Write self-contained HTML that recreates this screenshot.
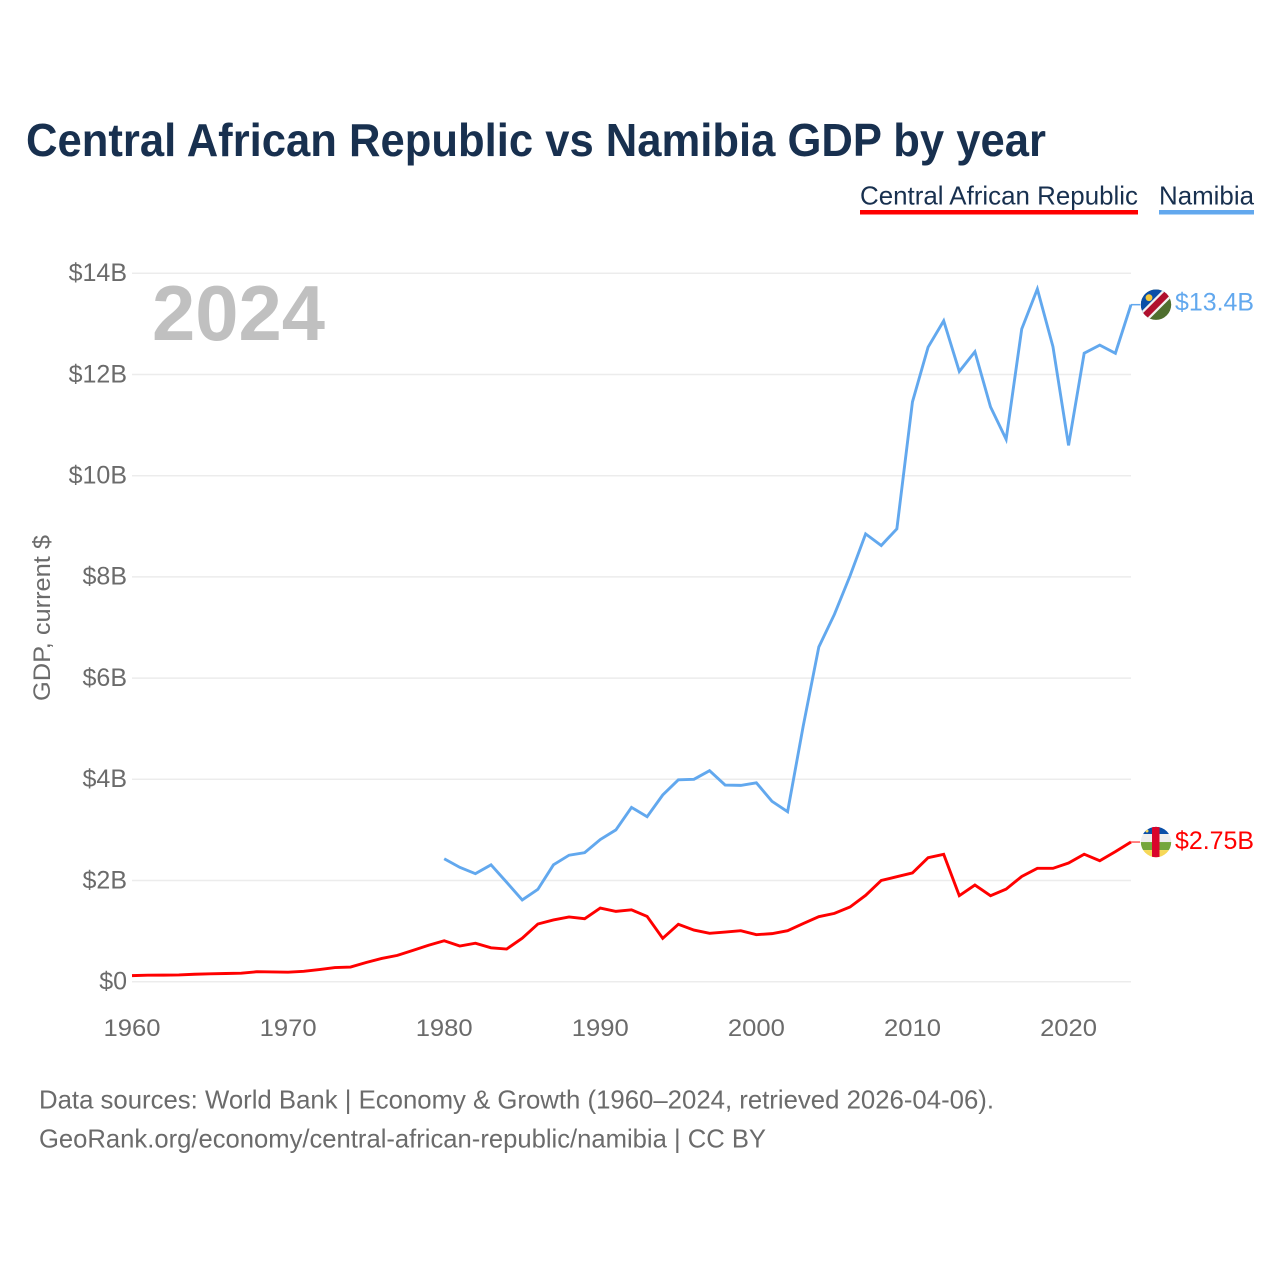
<!DOCTYPE html>
<html lang="en">
<head>
<meta charset="utf-8">
<title>Central African Republic vs Namibia GDP by year</title>
<style>
html,body{margin:0;padding:0;background:#fff}
svg{display:block}
text{font-family:"Liberation Sans",sans-serif}
</style>
</head>
<body>
<svg id="chart" xmlns="http://www.w3.org/2000/svg" width="1280" height="1280" viewBox="0 0 1280 1280">
  <defs>
    <clipPath id="flag-clip"><circle cx="0" cy="0" r="15.2"></circle></clipPath>
  </defs>
  <rect x="0" y="0" width="1280" height="1280" fill="#fff"></rect>

  <text x="26" y="156" font-size="46" font-weight="700" fill="#18304f" textLength="1020" lengthAdjust="spacingAndGlyphs">Central African Republic vs Namibia GDP by year</text>

  <g>
    <text x="860" y="204.5" font-size="26" fill="#18304f" textLength="278" lengthAdjust="spacingAndGlyphs">Central African Republic</text>
    <rect x="860" y="210" width="278" height="4.5" fill="#ff0000"></rect>
  </g>
  <g>
    <text x="1159" y="204.5" font-size="26" fill="#18304f" textLength="95" lengthAdjust="spacingAndGlyphs">Namibia</text>
    <rect x="1159" y="210" width="95" height="4.5" fill="#62a8ee"></rect>
  </g>

  <text transform="translate(50,618) rotate(-90)" text-anchor="middle" font-size="24" fill="#6b6b6b" textLength="166" lengthAdjust="spacingAndGlyphs">GDP, current $</text>

  <g id="grid"></g>
  <g id="y-ticks"></g>
  <g id="x-ticks"></g>

  <text x="152" y="340" font-size="78" font-weight="700" fill="#c0c0c0" textLength="173" lengthAdjust="spacingAndGlyphs">2024</text>

  <g id="series"></g>

  <g id="flag-namibia">
    <g clip-path="url(#flag-clip)">
      <rect x="-16" y="-16" width="32" height="32" fill="#4f6f2f"></rect>
      <polygon points="-16,-16 16,-16 -16,16" fill="#0a4fa8"></polygon>
      <line x1="-17" y1="17" x2="17" y2="-17" stroke="#f2f2f2" stroke-width="11"></line>
      <line x1="-17" y1="17" x2="17" y2="-17" stroke="#b0102e" stroke-width="6.5"></line>
      <circle cx="-7" cy="-7" r="3.4" fill="#f5c93b"></circle>
    </g>
  </g>
  <g id="flag-car">
    <g clip-path="url(#flag-clip)">
      <rect x="-16" y="-16" width="32" height="8" fill="#0a4fa8"></rect>
      <rect x="-16" y="-8" width="32" height="8" fill="#eeeeee"></rect>
      <rect x="-16" y="0" width="32" height="8" fill="#74a63c"></rect>
      <rect x="-16" y="8" width="32" height="8" fill="#f6d858"></rect>
      <rect x="-4" y="-16" width="7.5" height="32" fill="#d9042b"></rect>
      <circle cx="-9" cy="-11" r="1.5" fill="#f6d858"></circle>
    </g>
  </g>

  <text id="label-namibia" x="1175" font-size="25" fill="#62a8ee" textLength="79" lengthAdjust="spacingAndGlyphs"></text>
  <text id="label-car" x="1175" font-size="25" fill="#ff0000" textLength="79" lengthAdjust="spacingAndGlyphs"></text>

  <text x="39" y="1108.5" font-size="26" fill="#6b6b6b" textLength="955" lengthAdjust="spacingAndGlyphs">Data sources: World Bank | Economy &amp; Growth (1960–2024, retrieved 2026-04-06).</text>
  <text x="39" y="1147.5" font-size="26" fill="#6b6b6b" textLength="727" lengthAdjust="spacingAndGlyphs">GeoRank.org/economy/central-african-republic/namibia | CC BY</text>
</svg>

<script>
var years = [1960,1961,1962,1963,1964,1965,1966,1967,1968,1969,1970,1971,1972,1973,1974,1975,1976,1977,1978,1979,1980,1981,1982,1983,1984,1985,1986,1987,1988,1989,1990,1991,1992,1993,1994,1995,1996,1997,1998,1999,2000,2001,2002,2003,2004,2005,2006,2007,2008,2009,2010,2011,2012,2013,2014,2015,2016,2017,2018,2019,2020,2021,2022,2023,2024];
var carGdp = [0.12,0.128,0.13,0.133,0.147,0.156,0.162,0.168,0.197,0.193,0.188,0.205,0.24,0.28,0.29,0.38,0.46,0.52,0.62,0.72,0.81,0.705,0.76,0.67,0.646,0.86,1.14,1.22,1.28,1.245,1.456,1.39,1.42,1.29,0.857,1.134,1.02,0.956,0.98,1.008,0.93,0.95,1.008,1.15,1.285,1.35,1.476,1.707,2.0,2.075,2.15,2.45,2.517,1.70,1.91,1.70,1.83,2.08,2.24,2.24,2.345,2.52,2.39,2.57,2.76];
var namibiaGdp = [null,null,null,null,null,null,null,null,null,null,null,null,null,null,null,null,null,null,null,null,2.43,2.26,2.135,2.31,1.965,1.615,1.825,2.31,2.50,2.55,2.81,3.0,3.445,3.26,3.69,3.99,4.0,4.17,3.887,3.88,3.93,3.565,3.36,5.05,6.615,7.26,8.02,8.85,8.62,8.95,11.46,12.54,13.06,12.06,12.45,11.36,10.72,12.9,13.69,12.55,10.6,12.42,12.58,12.42,13.38];
var yTickValues = [0,2,4,6,8,10,12,14];
var yTickLabels = ["$0","$2B","$4B","$6B","$8B","$10B","$12B","$14B"];
var xTickValues = [1960,1970,1980,1990,2000,2010,2020];
var endLabels = ["$2.75B","$13.4B"];

var SVG_NS = "http://www.w3.org/2000/svg";
function xScale(year){ return 132 + (year - 1960) * (1131 - 132) / 64; }
function yScale(v){ return 981.7 - v * 50.6; }
function make(tag, parent){
  var el = document.createElementNS(SVG_NS, tag);
  parent.appendChild(el);
  return el;
}

var grid = document.getElementById("grid");
var yTicks = document.getElementById("y-ticks");
var xTicks = document.getElementById("x-ticks");
var seriesGroup = document.getElementById("series");

yTickValues.forEach(function(v, i){
  var line = make("line", grid);
  
  
  line.setAttribute("x1", 132);
  line.setAttribute("x2", 1131);
  line.setAttribute("y1", yScale(v));
  line.setAttribute("y2", yScale(v));
  line.setAttribute("stroke", "#ececec");
  line.setAttribute("stroke-width", 1.5);
  var label = make("text", yTicks);
  
  
  label.setAttribute("x", 127);
  label.setAttribute("y", yScale(v) + 7.8);
  label.setAttribute("text-anchor", "end");
  label.setAttribute("font-size", 25);
  label.setAttribute("fill", "#6b6b6b");
  label.textContent = yTickLabels[i];
});

xTickValues.forEach(function(year){
  var label = make("text", xTicks);
  
  
  label.setAttribute("x", xScale(year));
  label.setAttribute("y", 1036);
  label.setAttribute("text-anchor", "middle");
  label.setAttribute("font-size", 24.5);
  label.setAttribute("fill", "#6b6b6b");
  label.setAttribute("textLength", 57);
  label.setAttribute("lengthAdjust", "spacingAndGlyphs");
  label.textContent = String(year);
});

function linePath(values){
  var d = "";
  values.forEach(function(v, i){
    if (v === null) { return; }
    d += (d === "" ? "M" : "L") + xScale(years[i]).toFixed(2) + "," + yScale(v).toFixed(2);
  });
  return d;
}

var carLine = make("path", seriesGroup);


carLine.setAttribute("d", linePath(carGdp));
carLine.setAttribute("fill", "none");
carLine.setAttribute("stroke", "#ff0000");
carLine.setAttribute("stroke-width", 2.9);

var namibiaLine = make("path", seriesGroup);


namibiaLine.setAttribute("d", linePath(namibiaGdp));
namibiaLine.setAttribute("fill", "none");
namibiaLine.setAttribute("stroke", "#62a8ee");
namibiaLine.setAttribute("stroke-width", 2.9);

var carEnd = yScale(carGdp[carGdp.length - 1]);
var namibiaEnd = yScale(namibiaGdp[namibiaGdp.length - 1]);

var carConnector = make("line", seriesGroup);


carConnector.setAttribute("x1", xScale(2024));
carConnector.setAttribute("x2", xScale(2024) + 9);
carConnector.setAttribute("y1", carEnd);
carConnector.setAttribute("y2", carEnd);
carConnector.setAttribute("stroke", "#ff5a5a");
carConnector.setAttribute("stroke-width", 1.5);

var namibiaConnector = make("line", seriesGroup);


namibiaConnector.setAttribute("x1", xScale(2024));
namibiaConnector.setAttribute("x2", xScale(2024) + 9);
namibiaConnector.setAttribute("y1", namibiaEnd);
namibiaConnector.setAttribute("y2", namibiaEnd);
namibiaConnector.setAttribute("stroke", "#62a8ee");
namibiaConnector.setAttribute("stroke-width", 1.5);

document.getElementById("flag-car").setAttribute("transform", "translate(1156," + carEnd + ")");
document.getElementById("flag-namibia").setAttribute("transform", "translate(1156," + namibiaEnd + ")");

var carLabel = document.getElementById("label-car");
carLabel.setAttribute("y", carEnd + 6.8);
carLabel.textContent = endLabels[0];
var namibiaLabel = document.getElementById("label-namibia");
namibiaLabel.setAttribute("y", namibiaEnd + 5.8);
namibiaLabel.textContent = endLabels[1];
</script>
</body>
</html>
